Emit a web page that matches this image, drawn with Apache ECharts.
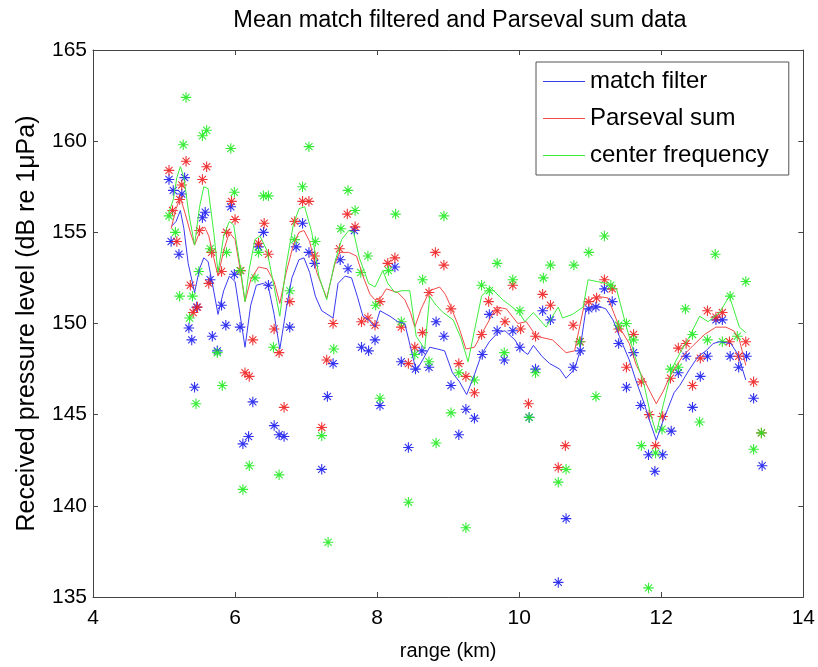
<!DOCTYPE html>
<html>
<head>
<meta charset="utf-8">
<script src="https://cdn.jsdelivr.net/npm/echarts@6/dist/echarts.min.js"></script>
<style>html,body{margin:0;padding:0;background:#fff;}#c{width:818px;height:667px;}</style>
</head>
<body>
<div id="c"></div>
<script>
const xTicks = [4, 6, 8, 10, 12, 14];
const yTicks = [135, 140, 145, 150, 155, 160, 165];
const seriesNames = ['match filter', 'Parseval sum', 'center frequency'];

// scatter points [range km, level dB]
const matchPoints = [[5.07,157.9],[5.10,154.5],[5.13,157.3],[5.21,153.8],[5.25,157.1],[5.29,158.0],[5.35,149.75],[5.39,149.1],[5.43,146.5],[5.46,150.9],[5.54,155.8],[5.58,156.1],[5.65,152.4],[5.68,149.3],[5.75,148.5],[5.81,151.0],[5.87,149.9],[5.94,156.4],[5.99,152.7],[6.07,149.8],[6.11,143.4],[6.19,143.8],[6.25,145.7],[6.33,154.2],[6.40,155.0],[6.47,152.1],[6.55,144.4],[6.62,143.9],[6.69,143.8],[6.77,149.8],[6.86,154.2],[6.95,155.5],[7.04,153.9],[7.12,153.3],[7.22,142.0],[7.30,146.0],[7.38,147.8],[7.48,153.5],[7.59,153.0],[7.68,155.1],[7.78,148.7],[7.88,148.5],[7.97,149.1],[8.04,145.5],[8.25,153.1],[8.34,147.9],[8.44,143.2],[8.54,147.5],[8.63,148.5],[8.73,147.6],[8.83,150.1],[8.94,149.3],[9.04,146.6],[9.15,143.9],[9.25,145.3],[9.37,144.8],[9.48,148.3],[9.58,150.5],[9.69,149.6],[9.79,148.0],[9.91,149.6],[10.01,148.7],[10.14,144.85],[10.23,147.5],[10.33,150.7],[10.44,150.2],[10.55,135.8],[10.66,139.3],[10.76,147.6],[10.86,148.5],[10.98,150.8],[11.08,150.9],[11.20,151.9],[11.31,151.2],[11.40,148.9],[11.51,146.5],[11.61,148.4],[11.71,145.5],[11.82,142.8],[11.91,141.9],[12.02,142.8],[12.14,144.1],[12.24,147.3],[12.35,148.2],[12.44,145.4],[12.55,147.1],[12.65,148.2],[12.77,150.2],[12.86,150.2],[12.97,148.2],[13.09,147.6],[13.20,148.2],[13.30,145.9],[13.42,142.2]];
const parsevalPoints = [[5.07,158.4],[5.12,156.2],[5.18,154.5],[5.22,156.8],[5.25,157.6],[5.31,158.9],[5.37,152.1],[5.41,150.6],[5.47,150.9],[5.50,155.1],[5.54,157.9],[5.60,158.6],[5.63,152.2],[5.67,153.9],[5.81,152.85],[5.88,155.0],[5.95,156.7],[6.00,155.7],[6.08,152.9],[6.14,147.3],[6.20,147.1],[6.25,149.1],[6.33,154.4],[6.41,155.5],[6.47,153.8],[6.55,149.7],[6.62,148.4],[6.69,145.4],[6.77,151.2],[6.84,155.6],[6.95,156.7],[7.04,156.7],[7.12,153.7],[7.22,144.3],[7.29,148.0],[7.38,150.0],[7.47,154.1],[7.58,156.0],[7.69,155.3],[7.78,150.1],[7.87,150.3],[7.97,149.9],[8.04,151.2],[8.15,153.3],[8.25,153.6],[8.34,149.8],[8.44,147.8],[8.53,148.7],[8.64,149.5],[8.73,151.7],[8.82,153.9],[8.94,153.2],[9.04,150.8],[9.15,147.8],[9.25,147.1],[9.37,146.2],[9.47,149.4],[9.57,151.2],[9.69,150.7],[9.80,150.1],[9.91,152.1],[10.02,149.7],[10.13,145.6],[10.23,149.3],[10.33,151.6],[10.44,151.0],[10.55,142.1],[10.65,143.3],[10.76,149.9],[10.86,149.0],[10.98,151.2],[11.09,151.4],[11.20,152.4],[11.31,151.9],[11.40,149.7],[11.51,147.6],[11.61,149.4],[11.72,146.8],[11.83,145.0],[11.92,143.3],[12.02,144.9],[12.13,147.0],[12.24,148.65],[12.35,148.9],[12.44,146.6],[12.55,148.1],[12.65,150.7],[12.77,150.35],[12.86,150.6],[12.96,149.0],[13.09,148.2],[13.19,149.0],[13.30,146.8],[13.41,144.0]];
const centerPoints = [[5.07,155.9],[5.16,155.0],[5.22,151.5],[5.27,159.8],[5.31,162.4],[5.36,150.3],[5.40,151.5],[5.45,145.6],[5.49,152.85],[5.54,160.3],[5.60,160.6],[5.65,154.1],[5.75,148.4],[5.82,146.6],[5.88,153.9],[5.94,159.6],[5.99,157.2],[6.07,152.9],[6.11,140.9],[6.20,142.2],[6.28,152.5],[6.33,153.9],[6.40,157.0],[6.47,157.0],[6.54,148.7],[6.62,141.7],[6.77,151.8],[6.84,154.6],[6.95,157.5],[7.04,159.7],[7.13,154.5],[7.22,143.85],[7.31,138.0],[7.39,148.6],[7.49,155.2],[7.59,157.3],[7.69,156.2],[7.77,152.8],[7.87,153.7],[7.98,151.0],[8.04,145.9],[8.16,152.9],[8.26,156.0],[8.34,150.1],[8.44,140.2],[8.53,148.3],[8.64,152.4],[8.73,147.9],[8.83,143.45],[8.94,155.9],[9.04,145.1],[9.15,147.3],[9.25,138.8],[9.37,146.9],[9.47,152.1],[9.58,151.8],[9.69,153.3],[9.79,148.4],[9.91,152.4],[10.01,150.7],[10.14,144.85],[10.23,147.3],[10.34,152.5],[10.44,153.2],[10.55,141.3],[10.66,142.0],[10.77,153.2],[10.85,149.0],[10.98,153.9],[11.08,146.0],[11.20,154.8],[11.29,152.1],[11.40,149.9],[11.51,150.0],[11.61,149.1],[11.72,143.3],[11.82,135.5],[11.92,142.9],[12.01,144.2],[12.13,147.5],[12.24,147.6],[12.34,150.8],[12.44,149.4],[12.54,144.6],[12.65,149.1],[12.76,153.8],[12.86,149.0],[12.97,151.5],[13.07,149.3],[13.19,152.3],[13.30,143.1],[13.41,144.0]];

// mean curves
const matchLine = [[5.10,155.3],[5.17,155.6],[5.23,156.2],[5.28,155.2],[5.34,153.3],[5.43,151.7],[5.50,153.0],[5.56,153.6],[5.62,153.4],[5.68,152.2],[5.76,150.5],[5.84,151.8],[5.92,152.6],[6.00,152.3],[6.07,150.5],[6.14,148.7],[6.22,151.0],[6.30,152.1],[6.40,152.2],[6.47,152.0],[6.55,150.5],[6.63,148.6],[6.72,150.8],[6.80,152.5],[6.90,153.5],[6.97,153.6],[7.05,152.8],[7.13,151.5],[7.22,150.7],[7.38,150.3],[7.45,152.2],[7.55,152.6],[7.64,152.5],[7.72,151.5],[7.80,150.4],[7.88,150.2],[7.97,149.8],[8.04,150.7],[8.18,150.4],[8.29,150.1],[8.39,150.0],[8.47,148.7],[8.55,147.4],[8.64,148.0],[8.74,148.7],[8.85,148.6],[8.95,148.5],[9.06,147.3],[9.16,146.8],[9.26,146.1],[9.37,147.2],[9.47,148.3],[9.58,149.0],[9.70,149.5],[9.80,149.6],[9.94,149.1],[10.02,148.6],[10.12,148.3],[10.20,148.8],[10.32,148.2],[10.43,147.8],[10.57,147.5],[10.66,147.0],[10.78,147.5],[10.85,148.4],[10.94,150.8],[11.08,151.0],[11.22,150.8],[11.32,150.2],[11.41,149.3],[11.55,148.0],[11.65,146.8],[11.76,145.6],[11.85,144.5],[11.93,143.6],[12.02,144.6],[12.09,145.3],[12.18,146.2],[12.26,146.6],[12.40,147.5],[12.52,148.2],[12.63,148.5],[12.73,148.9],[12.82,149.0],[12.98,148.9],[13.08,148.3],[13.19,146.9]];
const parsevalLine = [[5.10,155.2],[5.17,156.3],[5.23,156.9],[5.30,156.0],[5.37,155.0],[5.43,154.3],[5.50,155.0],[5.57,155.3],[5.63,154.8],[5.70,153.6],[5.76,152.6],[5.84,154.0],[5.92,155.0],[6.00,154.6],[6.07,153.0],[6.14,151.2],[6.22,152.4],[6.33,153.1],[6.45,153.0],[6.55,152.3],[6.63,151.1],[6.72,152.8],[6.82,154.3],[6.90,155.0],[6.97,155.1],[7.05,154.5],[7.15,152.8],[7.29,151.4],[7.40,153.2],[7.47,153.9],[7.60,153.9],[7.71,153.7],[7.80,152.6],[7.90,151.6],[7.97,151.3],[8.05,151.4],[8.13,151.9],[8.29,151.7],[8.39,151.3],[8.47,150.6],[8.53,149.8],[8.62,150.8],[8.74,151.8],[8.88,152.0],[8.96,151.6],[9.04,150.9],[9.15,149.8],[9.25,148.6],[9.37,148.7],[9.51,149.7],[9.68,150.9],[9.82,150.8],[9.98,150.0],[10.10,150.1],[10.24,149.3],[10.47,149.1],[10.66,148.4],[10.78,148.5],[10.92,151.1],[11.08,151.5],[11.25,151.4],[11.41,149.8],[11.55,148.9],[11.65,147.7],[11.76,146.9],[11.85,146.2],[11.93,145.6],[12.03,146.3],[12.12,147.1],[12.30,148.2],[12.45,148.8],[12.61,149.4],[12.77,149.8],[12.91,149.8],[13.02,149.6],[13.10,149.1],[13.19,147.7]];
const centerLine = [[5.07,156.1],[5.13,156.8],[5.18,158.0],[5.23,158.6],[5.28,158.0],[5.35,156.0],[5.43,154.3],[5.50,156.4],[5.56,157.5],[5.62,157.4],[5.70,155.0],[5.76,152.8],[5.84,154.8],[5.92,155.6],[5.98,155.4],[6.07,153.2],[6.14,151.2],[6.20,153.0],[6.28,154.6],[6.35,154.8],[6.45,154.0],[6.55,152.0],[6.63,150.4],[6.72,153.2],[6.82,155.4],[6.90,156.3],[6.98,156.4],[7.08,155.0],[7.18,152.6],[7.29,151.3],[7.40,153.3],[7.50,154.6],[7.60,155.1],[7.67,155.0],[7.75,153.6],[7.88,152.2],[7.97,152.0],[8.08,152.9],[8.15,152.2],[8.25,151.7],[8.35,151.8],[8.46,151.8],[8.55,149.3],[8.67,148.6],[8.74,151.5],[8.83,151.0],[8.93,150.6],[9.07,150.2],[9.18,149.2],[9.28,147.9],[9.38,149.8],[9.47,151.5],[9.59,152.0],[9.77,151.3],[10.00,150.6],[10.08,150.1],[10.20,150.6],[10.38,149.8],[10.50,150.6],[10.55,150.9],[10.61,150.3],[10.75,150.5],[10.90,150.9],[10.97,152.4],[11.10,152.3],[11.22,152.2],[11.37,151.9],[11.51,149.8],[11.63,148.2],[11.76,146.6],[11.85,145.0],[11.93,144.0],[12.07,146.2],[12.16,147.6],[12.28,148.5],[12.40,149.3],[12.54,150.4],[12.66,150.1],[12.82,150.6],[12.96,151.5],[13.10,149.8],[13.19,149.5]];

const lineColors = ['#3a3af2', '#f24a4a', '#3cee3c'];
const markColors = ['#1c1cf0', '#ee2020', '#22ea22'];
const star = 'path://M5 0 L5 10 M0 5 L10 5 M1.6 1.6 L8.4 8.4 M1.6 8.4 L8.4 1.6';

const chart = echarts.init(document.getElementById('c'), null, {renderer: 'canvas'});
const font = 'Liberation Sans, Arial, Helvetica, sans-serif';

function scatter(name, data, i) {
  return {
    name: name, type: 'scatter', data: data, symbol: star, symbolSize: 10.5,
    itemStyle: {color: 'rgba(0,0,0,0)', borderColor: markColors[i], borderWidth: 1.1, opacity: 0.9},
    z: 2, silent: true
  };
}
function line(name, data, i) {
  return {
    name: name, type: 'line', data: data, symbol: 'none', showSymbol: false,
    lineStyle: {color: lineColors[i], width: 1}, itemStyle: {color: lineColors[i]},
    z: 3, silent: true
  };
}
const axisCommon = {
  type: 'value', splitLine: {show: false},
  axisLine: {show: true, onZero: false, lineStyle: {color: '#444', width: 1}},
  axisTick: {show: true, inside: true, length: 5, lineStyle: {color: '#444'}}
};

chart.setOption({
  animation: false,
  backgroundColor: '#fff',
  title: {
    text: 'Mean match filtered and Parseval sum data', left: 455, top: 4, textAlign: 'center',
    textStyle: {fontFamily: font, fontSize: 23.5, fontWeight: 'normal', color: '#000'}
  },
  legend: {
    data: seriesNames, orient: 'vertical', left: 536, top: 62,
    icon: 'rect', itemWidth: 42, itemHeight: 1, itemGap: 12,
    padding: [7, 20, 7, 7],
    backgroundColor: '#fff', borderColor: '#555', borderWidth: 1,
    textStyle: {fontFamily: font, fontSize: 24, color: '#000', lineHeight: 25}
  },
  grid: {left: 93, right: 14, top: 50, bottom: 70},
  xAxis: [
    Object.assign({}, axisCommon, {
      min: xTicks[0], max: xTicks[xTicks.length - 1], interval: 2, position: 'bottom',
      name: 'range (km)', nameLocation: 'middle', nameGap: 44,
      nameTextStyle: {fontFamily: font, fontSize: 20, color: '#000'},
      axisLabel: {fontFamily: font, fontSize: 21, color: '#000', margin: 11}
    }),
    Object.assign({}, axisCommon, {
      min: xTicks[0], max: xTicks[xTicks.length - 1], interval: 2, position: 'top',
      axisLabel: {show: false}
    })
  ],
  yAxis: [
    Object.assign({}, axisCommon, {
      min: yTicks[0], max: yTicks[yTicks.length - 1], interval: 5, position: 'left',
      name: 'Received pressure level (dB re 1\u03bcPa)', nameLocation: 'middle', nameGap: 53, nameRotate: 90,
      nameTextStyle: {fontFamily: font, fontSize: 25, color: '#000'},
      axisLabel: {fontFamily: font, fontSize: 21, color: '#000', margin: 6}
    }),
    Object.assign({}, axisCommon, {
      min: yTicks[0], max: yTicks[yTicks.length - 1], interval: 5, position: 'right',
      axisLabel: {show: false}
    })
  ],
  series: [
    scatter('match filter points', matchPoints, 0),
    scatter('Parseval sum points', parsevalPoints, 1),
    scatter('center frequency points', centerPoints, 2),
    line(seriesNames[0], matchLine, 0),
    line(seriesNames[1], parsevalLine, 1),
    line(seriesNames[2], centerLine, 2)
  ]
});
</script>
</body>
</html>
